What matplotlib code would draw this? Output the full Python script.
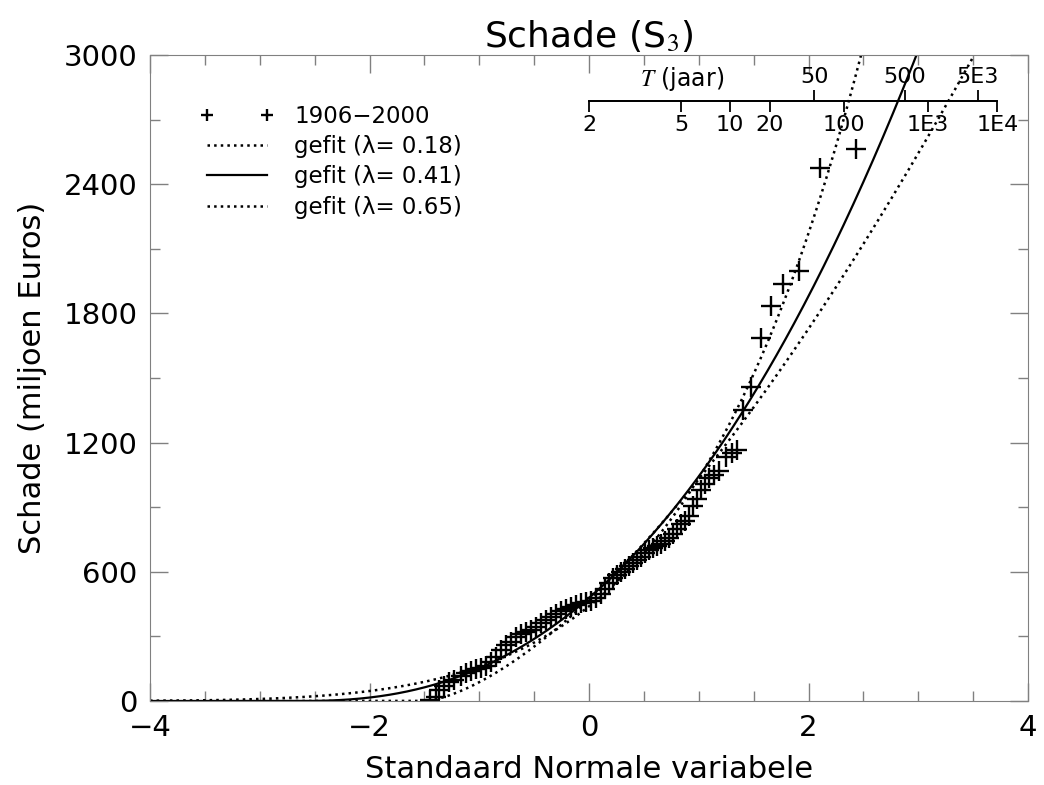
import numpy as np
import matplotlib.pyplot as plt
from matplotlib.ticker import MultipleLocator
from statistics import NormalDist

# waargenomen schades (gesorteerd), standaard normale plotposities
z_obs = [-1.45, -1.39, -1.364, -1.318, -1.273, -1.227, -1.164, -1.118, -1.073, -1.027,
         -0.982, -0.936, -0.891, -0.845, -0.80, -0.755, -0.709, -0.664, -0.618, -0.573,
         -0.527, -0.482, -0.436, -0.391, -0.345, -0.30, -0.255, -0.209, -0.164, -0.118,
         -0.073, -0.027, 0.018, 0.064, 0.109, 0.145, 0.182, 0.218, 0.255, 0.291,
         0.327, 0.364, 0.40, 0.436, 0.473, 0.509, 0.545, 0.582, 0.618, 0.655,
         0.691, 0.727, 0.764, 0.80, 0.836, 0.873, 0.909, 0.945, 0.982, 1.018,
         1.055, 1.091, 1.136, 1.182, 1.245, 1.30, 1.345, 1.40, 1.473, 1.564,
         1.655, 1.764, 1.909, 2.109, 2.436]
schade_obs = [5, 19, 51, 70, 88, 98, 116, 130, 139, 149,
              153, 163, 181, 204, 237, 260, 274, 297, 311, 320,
              330, 344, 362, 376, 390, 404, 418, 427, 437, 446,
              455, 460, 464, 478, 497, 520, 548, 571, 585, 599,
              613, 627, 641, 655, 669, 687, 701, 711, 720, 729,
              743, 757, 776, 799, 822, 836, 859, 906, 938, 980,
              1008, 1036, 1050, 1068, 1133, 1152, 1166, 1352, 1458, 1686,
              1835, 1937, 1997, 2476, 2564]

# Box-Cox fits: y**lam = a + b*z
lambdas = [0.18, 0.41, 0.65]
fit_a = [2.991, 12.56, 54.6]
fit_b = [0.498, 4.72, 36.3]
fit_styles = [':', '-', ':']

# terugkeertijden bovenas
T_onder = [2, 5, 10, 20, 100, 1000, 10000]
T_onder_lab = ['2', '5', '10', '20', '100', '1E3', '1E4']
T_boven = [50, 500, 5000]
T_boven_lab = ['50', '500', '5E3']

plt.rcParams['font.family'] = 'DejaVu Sans'
plt.rcParams['mathtext.fontset'] = 'stix'

fig = plt.figure(figsize=(10.44, 7.85), dpi=100)
ax = fig.add_axes([0.1437, 0.107, 0.8410, 0.823])

ax.plot(z_obs, schade_obs, '+', color='black', ms=14, mew=1.7, label='1906\u22122000')
z = np.linspace(-4, 4, 800)
for lam, a, b, ls in zip(lambdas, fit_a, fit_b, fit_styles):
    y = np.clip(a + b * z, 0, None) ** (1.0 / lam)
    ax.plot(z, y, ls, color='black', lw=1.6 if ls == '-' else 1.8,
            label='gefit (\u03bb= %.2f)' % lam)

ax.set_xlim(-4, 4)
ax.set_ylim(0, 3000)
ax.xaxis.set_major_locator(MultipleLocator(2))
ax.xaxis.set_minor_locator(MultipleLocator(0.5))
ax.yaxis.set_major_locator(MultipleLocator(600))
ax.yaxis.set_minor_locator(MultipleLocator(300))
ax.tick_params(which='both', direction='in', top=True, right=True, color='0.5',
               labelsize=21, width=1)
ax.tick_params(which='major', length=13, pad=9)
ax.tick_params(which='minor', length=7)
for s in ax.spines.values():
    s.set_color('0.5')
ax.set_xlabel('Standaard Normale variabele', fontsize=22, labelpad=10)
ax.set_ylabel('Schade (miljoen Euros)', fontsize=22, labelpad=12)
ax.set_title('Schade (S$_3$)', fontsize=26, pad=6)

leg = ax.legend(loc='upper left', bbox_to_anchor=(0.034, 0.955), frameon=False,
                fontsize=16.5, numpoints=2, markerscale=0.6, handlelength=3.2,
                labelspacing=0.32, handletextpad=0.9)

# bovenas met terugkeertijd
nd = NormalDist()
yas = 0.929
for onder, Ts, labs in [(True, T_onder, T_onder_lab), (False, T_boven, T_boven_lab)]:
    ax2 = fig.add_axes(ax.get_position())
    ax2.patch.set_visible(False)
    for s in ax2.spines.values():
        s.set_visible(False)
    ax2.set_xlim(-4, 4)
    ax2.set_ylim(0, 1)
    ax2.set_yticks([])
    zt = [nd.inv_cdf(1 - 1.0 / T) for T in Ts]
    ax2.set_xticks(zt)
    ax2.set_xticklabels(labs)
    kant = 'bottom' if onder else 'top'
    ax2.xaxis.set_ticks_position(kant)
    ax2.spines[kant].set_visible(True)
    ax2.spines[kant].set_position(('axes', yas))
    ax2.spines[kant].set_bounds(0, nd.inv_cdf(1 - 1e-4))
    ax2.spines[kant].set_linewidth(1.3)
    ax2.tick_params(axis='x', direction='out', length=8, width=1.3, labelsize=16, pad=2)
    if onder:
        ax2.tick_params(axis='x', labelbottom=True, labeltop=False)
    else:
        ax2.tick_params(axis='x', labelbottom=False, labeltop=True)
ax2.text(0.46, yas + 0.012, r'$T$ (jaar)', fontsize=17, ha='left', va='bottom',
         transform=ax2.get_xaxis_transform())

fig.savefig('out.png', dpi=100)
